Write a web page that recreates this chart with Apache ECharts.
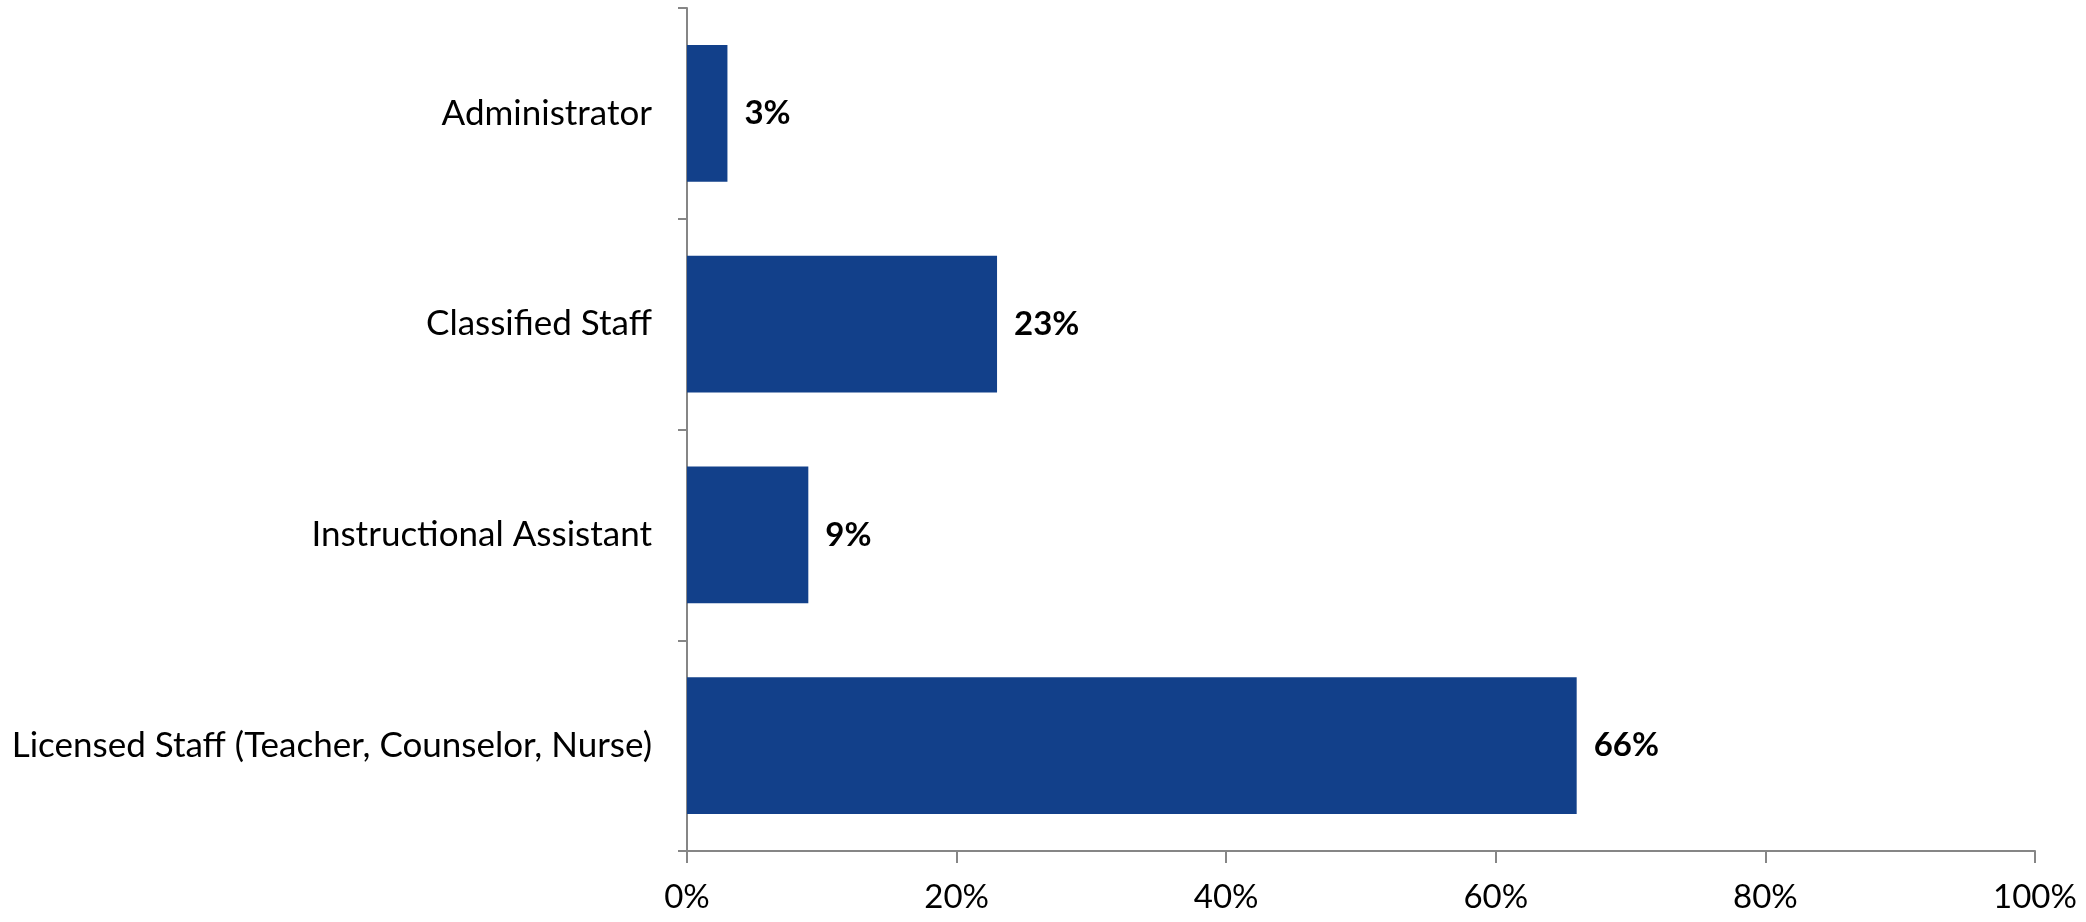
<!DOCTYPE html>
<html>
<meta charset="utf-8" />
<head>
  <script src="https://cdn.jsdelivr.net/npm/echarts@6/dist/echarts.min.js"></script>
  <style>
    html, body { margin: 0; padding: 0; background: #fff; }
    #chart { width: 2086px; height: 922px; }
  </style>
</head>
<body>
  <div id="chart"></div>
  <script>
    const categories = [
      "Administrator",
      "Classified Staff",
      "Instructional Assistant",
      "Licensed Staff (Teacher, Counselor, Nurse)"
    ];
    const percentValues = [3, 23, 9, 66];
    const xTicks = [0, 20, 40, 60, 80, 100];

    const fontFamily = "Lato, 'Open Sans', sans-serif";
    const axisGray = "#868686";

    const myChart = echarts.init(document.getElementById("chart"));
    const option = {
      animation: false,
      textStyle: { fontFamily: fontFamily, color: "#000" },
      grid: { left: 687, right: 51, top: 8, bottom: 71, containLabel: false },
      xAxis: {
        type: "value",
        min: xTicks[0],
        max: xTicks[xTicks.length - 1],
        interval: 20,
        splitLine: { show: false },
        axisLine: { show: true, lineStyle: { color: axisGray, width: 2 } },
        axisTick: { show: true, length: 12, lineStyle: { color: axisGray, width: 2 } },
        axisLabel: {
          formatter: "{value}%",
          fontSize: 33,
          color: "#000",
          fontFamily: fontFamily,
          margin: 30
        }
      },
      yAxis: {
        type: "category",
        inverse: true,
        data: categories,
        axisLine: { show: true, lineStyle: { color: axisGray, width: 2 } },
        axisTick: { show: true, length: 9, alignWithLabel: false, lineStyle: { color: axisGray, width: 2 } },
        axisLabel: {
          fontSize: 35,
          color: "#000",
          fontFamily: fontFamily,
          margin: 35
        }
      },
      series: [
        {
          type: "bar",
          data: percentValues,
          barCategoryGap: "35%",
          itemStyle: { color: "#12408A" },
          label: {
            show: true,
            position: "right",
            distance: 17,
            formatter: "{c}%",
            fontSize: 33,
            fontWeight: "bold",
            color: "#000",
            fontFamily: fontFamily
          }
        }
      ]
    };
    myChart.setOption(option);
  </script>
</body>
</html>
